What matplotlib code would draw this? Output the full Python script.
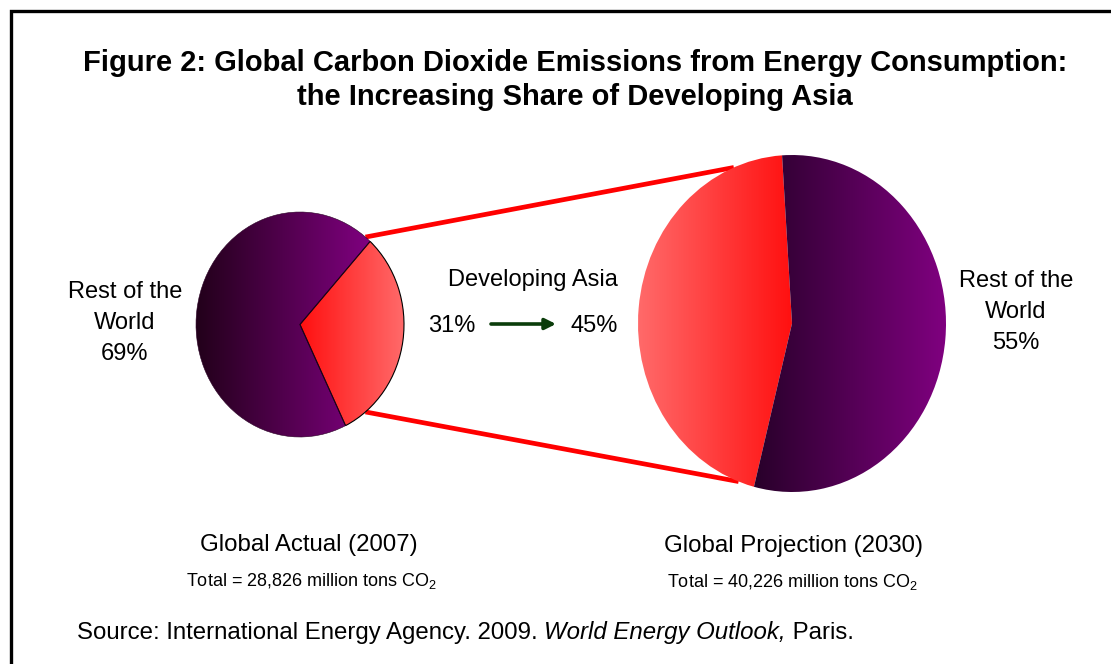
import numpy as np
import matplotlib
matplotlib.use("Agg")
import matplotlib.pyplot as plt
from matplotlib.colors import LinearSegmentedColormap

plt.rcParams['font.family'] = ['Liberation Sans', 'DejaVu Sans']
plt.rcParams['mathtext.fontset'] = 'custom'
plt.rcParams['mathtext.rm'] = 'Liberation Sans'

# data
labels = ["Developing Asia", "Rest of the World"]
share_2007 = [31, 69]
share_2030 = [45, 55]
total_2007 = "28,826"
total_2030 = "40,226"

W, H = 1111, 664
fig = plt.figure(figsize=(W / 100, H / 100), dpi=100)

# background axes in pixel units
bg = fig.add_axes([0, 0, 1, 1])
bg.set_xlim(0, W)
bg.set_ylim(H, 0)
bg.axis('off')

# pie geometry (pixels): center x, center y, radius x, radius y
left_pie = (300, 324.5, 104, 112.5)
right_pie = (792, 323.5, 154, 168.5)


def pie_axes(geom):
    cx, cy, rx, ry = geom
    pad = 1.04
    ax = fig.add_axes([(cx - rx * pad) / W, (H - cy - ry * pad) / H,
                       2 * rx * pad / W, 2 * ry * pad / H])
    return ax


def gradient_fill(ax, wedge, c_left, c_right, z):
    ext = wedge.get_path().get_extents()
    cmap = LinearSegmentedColormap.from_list('g', [c_left, c_right])
    grad = np.linspace(0, 1, 256)[None, :]
    im = ax.imshow(grad, cmap=cmap, extent=(ext.x0, ext.x1, ext.y0, ext.y1),
                   aspect='auto', origin='lower', zorder=z, interpolation='bilinear')
    im.set_clip_path(wedge)


def draw_pie(geom, values, start, red_cols, purple_cols, red_edge):
    ax = pie_axes(geom)
    wedges, _ = ax.pie(values, startangle=start, counterclock=True, radius=1,
                       wedgeprops=dict(facecolor='none', linewidth=0))
    ax.set_aspect('auto')
    ax.set_xlim(-1.04, 1.04)
    ax.set_ylim(-1.04, 1.04)
    ax.axis('off')
    for w in wedges:
        w.set_zorder(3)
    gradient_fill(ax, wedges[0], red_cols[0], red_cols[1], 2)
    gradient_fill(ax, wedges[1], purple_cols[0], purple_cols[1], 2)
    if red_edge:
        wedges[0].set_edgecolor('black')
        wedges[0].set_linewidth(0.8)
        wedges[1].set_edgecolor('#2a0025')
        wedges[1].set_linewidth(0.4)
    return ax


def edge_point(geom, ang):
    cx, cy, rx, ry = geom
    a = np.deg2rad(ang)
    return cx + rx * np.cos(a), cy - ry * np.sin(a)


# connector lines between the pies (under the pies)
for a_left, a_right in [(51, 112.2), (-51, 249.7)]:
    x0, y0 = edge_point(left_pie, a_left)
    x1, y1 = edge_point(right_pie, a_right)
    bg.plot([x0, x1], [y0, y1], color='#ff0000', lw=3.4, solid_capstyle='butt')

# border (left and top only)
bg.plot([10.5, 10.5, W], [H, 11, 11], color='black', lw=2.4, solid_joinstyle='miter')

# pies: red wedge first; start angles place the red slice as in the figure
start_2007 = 47.6 - share_2007[0] * 3.6
draw_pie(left_pie, share_2007, start_2007,
         ('#ff1010', '#ff6a6a'), ('#22001a', '#800080'), True)
draw_pie(right_pie, share_2030, 93.7,
         ('#ff6a6a', '#ff1010'), ('#28002a', '#800080'), False)

# title
bg.text(575, 63, "Figure 2: Global Carbon Dioxide Emissions from Energy Consumption:",
        ha='center', va='center', fontsize=21, fontweight='bold')
bg.text(575, 97, "the Increasing Share of Developing Asia",
        ha='center', va='center', fontsize=21, fontweight='bold')

# labels
bg.text(125, 323, f"Rest of the\nWorld\n{share_2007[1]}%", ha='center', va='center',
        fontsize=17, linespacing=1.55)
bg.text(1016, 312, f"Rest of the\nWorld\n{share_2030[1]}%", ha='center', va='center',
        fontsize=17, linespacing=1.55)
bg.text(533, 280, labels[0], ha='center', va='center', fontsize=17)
bg.text(452, 326, f"{share_2007[0]}%", ha='center', va='center', fontsize=17)
bg.text(594, 326, f"{share_2030[0]}%", ha='center', va='center', fontsize=17)
bg.annotate('', xy=(556, 324), xytext=(491, 324),
            arrowprops=dict(arrowstyle='-|>', color='#0b3d0b', lw=2.6,
                            mutation_scale=16, shrinkA=0, shrinkB=0))

bg.text(309, 545, "Global Actual (2007)", ha='center', va='center', fontsize=17.3)
bg.text(793, 546, "Global Projection (2030)", ha='center', va='center', fontsize=17.3)
bg.text(312, 581, f"Total = {total_2007} million tons CO$_2$", ha='center', va='center',
        fontsize=13)
bg.text(793, 582, f"Total = {total_2030} million tons CO$_2$", ha='center', va='center',
        fontsize=13)

# source line with italic title
t1 = bg.text(77, 633, "Source: International Energy Agency. 2009. ", ha='left',
             va='center', fontsize=17.3)
t2 = bg.annotate("World Energy Outlook,", xy=(1, 0), xycoords=t1, ha='left',
                 va='bottom', fontsize=17.3, fontstyle='italic')
bg.annotate(" Paris.", xy=(1, 0), xycoords=t2, ha='left', va='bottom', fontsize=17.3)

fig.savefig('out.png', dpi=100)
